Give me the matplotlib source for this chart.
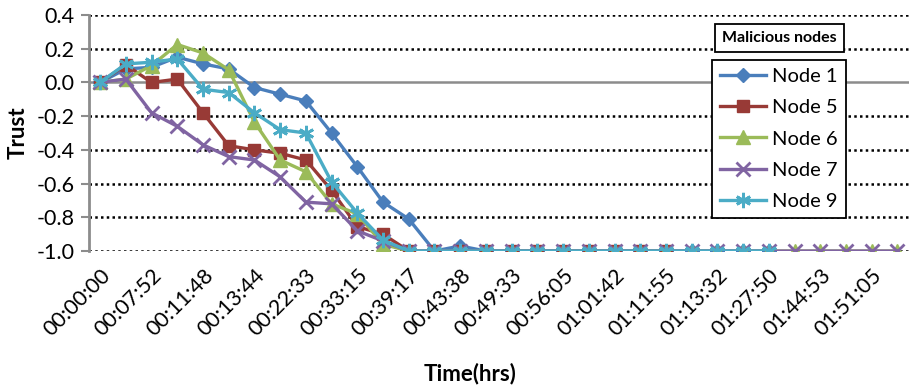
import numpy as np
import matplotlib
matplotlib.use('Agg')
import matplotlib.pyplot as plt

plt.rcParams['font.family'] = ['Lato', 'DejaVu Sans']

# etiquetas del eje x (una cada dos puntos)
tick_labels = ['00:00:00', '00:07:52', '00:11:48', '00:13:44', '00:22:33', '00:33:15',
               '00:39:17', '00:43:38', '00:49:33', '00:56:05', '01:01:42', '01:11:55',
               '01:13:32', '01:27:50', '01:44:53', '01:51:05']
n_puntos = 32

node1 = [0, 0.08, 0.09, 0.15, 0.11, 0.08, -0.03, -0.07, -0.11, -0.30, -0.50, -0.71, -0.81,
         -1.0, -0.97, -1.0, -1.0, -1.0, -1.0, -1.0, -1.0, -1.0, -1.0, -1.0, -1.0, -1.0, -1.0]
node5 = [0, 0.105, 0.0, 0.02, -0.18, -0.375, -0.40, -0.42, -0.46, -0.64, -0.855, -0.90,
         -1.0, -1.0, -1.0, -1.0, -1.0, -1.0, -1.0, -1.0, -1.0, -1.0, -1.0]
node6 = [0, 0.02, 0.10, 0.225, 0.175, 0.075, -0.235, -0.46, -0.53, -0.72, -0.78, -0.96,
         -1.0, -1.0, -1.0, -1.0, -1.0, -1.0, -1.0, -1.0, -1.0, -1.0, -1.0, -1.0, -1.0, -1.0,
         -1.0, -1.0, -1.0, -1.0, -1.0, -1.0]
node7 = [0, 0.02, -0.18, -0.26, -0.37, -0.44, -0.46, -0.56, -0.71, -0.72, -0.88, -0.94,
         -1.0, -1.0, -1.0, -1.0, -1.0, -1.0, -1.0, -1.0, -1.0, -1.0, -1.0, -1.0, -1.0, -1.0,
         -1.0, -1.0, -1.0, -1.0, -1.0, -1.0]
node9 = [0, 0.11, 0.12, 0.14, -0.04, -0.06, -0.18, -0.28, -0.30, -0.59, -0.775, -0.935,
         -1.0, -1.0, -1.0, -1.0, -1.0, -1.0, -1.0, -1.0, -1.0, -1.0, -1.0, -1.0, -1.0, -1.0, -1.0]

series = [
    ('Node 1', node1, '#4A7EBB', 'D', 7.5),
    ('Node 5', node5, '#983A36', 's', 9),
    ('Node 6', node6, '#9BBB59', '^', 10),
    ('Node 7', node7, '#8064A2', 'x', 10),
    ('Node 9', node9, '#4BACC6', (6, 2, 0), 11),
]

fig = plt.figure(figsize=(9.09, 3.88), dpi=100)
ax = fig.add_axes([0.0974, 0.353, 0.9026, 0.6083])

for nombre, valores, color, marcador, tam in series:
    x = np.arange(len(valores))
    ax.plot(x, valores, color=color, lw=2.4, marker=marcador, ms=tam,
            mec=color, mew=2 if marcador in ('x', (6, 2, 0)) else 1, label=nombre)

ax.set_xlim(-0.45, n_puntos - 0.55)
ax.set_ylim(-1.0, 0.4)
yt = np.round(np.arange(-1.0, 0.41, 0.2), 1)
ax.set_yticks(yt)
ax.set_yticklabels(['%.1f' % (v + 0.0) for v in yt], fontsize=15.5)

# rejilla punteada y linea del cero
for v in yt:
    if v == 0:
        ax.axhline(0, color='#8c8c8c', lw=1.8, zorder=1)
    else:
        ax.axhline(v, color='black', lw=1.8, ls=(0, (1, 1.3)), zorder=1)

ax.set_xticks(np.arange(0, n_puntos, 2))
ax.set_xticklabels(tick_labels, rotation=45, ha='right', rotation_mode='anchor', fontsize=15.5)
ax.tick_params(axis='x', length=0, pad=10)
ax.tick_params(axis='y', length=6, width=1.5, color='#8c8c8c', pad=4)

for s in ['top', 'right', 'bottom']:
    ax.spines[s].set_visible(False)
ax.spines['left'].set_color('#8c8c8c')
ax.spines['left'].set_linewidth(2)

ax.set_ylabel('Trust', fontsize=16, fontweight='bold', labelpad=6)
fig.text(0.517, 0.02, 'Time(hrs)', fontsize=16, fontweight='bold', ha='center')

leg = ax.legend(loc='upper left', bbox_to_anchor=(712 / 909, 1 - 60 / 388),
                bbox_transform=fig.transFigure, fontsize=14.5, fancybox=False,
                edgecolor='black', framealpha=1, handlelength=2.3, labelspacing=0.7,
                borderpad=0.4, handletextpad=0.3, borderaxespad=0)
leg.get_frame().set_linewidth(1.3)

fig.text(779 / 909, 1 - 38 / 388, 'Malicious nodes', fontsize=11.5, fontweight='bold',
         ha='center', va='center',
         bbox=dict(boxstyle='square,pad=0.45', fc='white', ec='black', lw=1.3))

fig.savefig('out.png', dpi=100)
